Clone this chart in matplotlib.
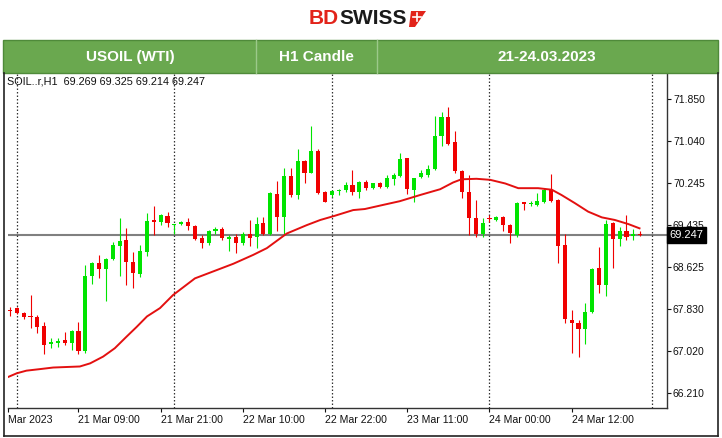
import matplotlib
matplotlib.use("Agg")
import matplotlib.pyplot as plt
import matplotlib.transforms as mtransforms
from matplotlib.patches import Rectangle, Polygon

plt.rcParams["font.family"] = ["Liberation Sans", "DejaVu Sans"]

# ── Data (H1 candles, USOIL 21-24.03.2023) ─────────────────────
opens = [67.80, 67.84, 67.74, 67.68, 67.67, 67.50, 67.16, 67.18, 67.22, 67.18,
         67.41, 67.02, 68.46, 68.70, 68.59, 68.78, 69.03, 69.14, 68.73, 68.49,
         68.92, 69.53, 69.50, 69.61, 69.44, 69.45, 69.50, 69.42, 69.19, 69.08,
         69.31, 69.36, 69.17, 69.21, 69.08, 69.26, 69.20, 69.47, 69.27, 70.03,
         69.59, 70.37, 70.01, 70.67, 70.44, 70.85, 70.07, 70.01, 70.08, 70.10,
         70.20, 70.07, 70.25, 70.14, 70.23, 70.17, 70.32, 70.38, 70.71, 70.11,
         70.35, 70.39, 70.51, 71.15, 71.51, 71.02, 70.47, 70.07, 69.56, 69.26,
         69.57, 69.53, 69.59, 69.43, 69.24, 69.87, 69.84, 69.82, 69.88, 70.11,
         69.91, 69.05, 67.62, 67.55, 67.43, 67.76, 68.60, 68.28, 69.47, 69.17,
         69.32, 69.22, 69.269]
highs = [67.87, 67.86, 67.77, 68.10, 67.71, 67.58, 67.27, 67.26, 67.39, 67.42,
         67.58, 68.67, 68.73, 68.85, 68.80, 69.11, 69.56, 69.37, 68.92, 69.05,
         69.67, 69.79, 69.65, 69.69, 69.46, 69.51, 69.56, 69.43, 69.24, 69.33,
         69.39, 69.39, 69.24, 69.26, 69.29, 69.53, 69.58, 69.59, 70.06, 70.28,
         70.52, 70.52, 70.89, 70.68, 71.33, 70.90, 70.09, 70.11, 70.12, 70.25,
         70.49, 70.28, 70.30, 70.24, 70.25, 70.39, 70.44, 70.82, 70.72, 70.34,
         70.49, 70.58, 71.53, 71.61, 71.69, 71.24, 70.49, 70.39, 69.91, 69.56,
         69.62, 69.60, 69.60, 69.46, 69.88, 69.88, 69.90, 70.04, 70.14, 70.42,
         69.93, 69.26, 67.80, 67.61, 67.93, 68.60, 69.02, 69.53, 69.50, 69.40,
         69.63, 69.35, 69.325]
lows = [67.69, 67.72, 67.64, 67.46, 67.36, 66.95, 67.07, 67.10, 67.13, 67.04,
        66.95, 66.97, 68.31, 68.41, 67.98, 68.76, 68.46, 68.28, 68.22, 68.44,
        68.83, 69.24, 69.43, 69.40, 69.26, 69.43, 69.34, 69.15, 68.99, 69.05,
        69.27, 69.15, 68.94, 68.90, 69.05, 69.03, 68.99, 69.25, 69.25, 69.32,
        69.27, 69.98, 69.93, 70.23, 70.43, 70.03, 69.87, 69.98, 70.01, 70.07,
        70.01, 69.95, 70.11, 70.12, 70.14, 70.15, 70.21, 70.36, 70.03, 69.88,
        70.33, 70.36, 70.49, 70.94, 70.97, 70.44, 69.95, 69.24, 69.21, 69.21,
        69.50, 69.51, 69.31, 69.09, 69.21, 69.72, 69.80, 69.80, 69.86, 69.88,
        68.70, 67.55, 66.97, 66.90, 67.16, 67.74, 68.12, 68.07, 68.60, 69.03,
        69.15, 69.15, 69.214]
closes = [67.78, 67.74, 67.66, 67.66, 67.48, 67.13, 67.19, 67.20, 67.17, 67.41,
          67.02, 68.46, 68.70, 68.59, 68.78, 69.05, 69.13, 68.73, 68.51, 68.94,
          69.51, 69.50, 69.63, 69.48, 69.45, 69.49, 69.41, 69.17, 69.09, 69.31,
          69.36, 69.18, 69.21, 69.09, 69.26, 69.19, 69.45, 69.27, 70.04, 69.59,
          70.37, 70.01, 70.66, 70.44, 70.85, 70.04, 69.88, 70.08, 70.09, 70.20,
          70.06, 70.25, 70.14, 70.23, 70.17, 70.33, 70.39, 70.69, 70.12, 70.33,
          70.43, 70.51, 71.15, 71.51, 70.99, 70.46, 70.06, 69.56, 69.26, 69.48,
          69.55, 69.58, 69.43, 69.28, 69.86, 69.84, 69.86, 69.89, 70.11, 69.90,
          69.03, 67.64, 67.55, 67.44, 67.77, 68.59, 68.28, 69.45, 69.17, 69.32,
          69.21, 69.27, 69.247]

# moving average (bar index, price)
ma_idx = [-0.25, 1.0, 2.4, 4.4, 6.3, 10.2, 11.7, 13.6, 15.3, 17.0, 18.5, 20.0,
          21.9, 23.8, 27.0, 30.2, 32.6, 35.5, 37.5, 40.4, 43.3, 45.3, 47.4,
          50.1, 51.8, 54.5, 56.9, 59.9, 62.8, 64.7, 65.9, 68.1, 70.1, 72.3,
          74.2, 77.1, 79.1, 80.5, 82.5, 84.4, 86.4, 88.3, 90.3, 91.9]
ma_val = [66.52, 66.59, 66.64, 66.67, 66.70, 66.72, 66.78, 66.91, 67.07, 67.29,
          67.48, 67.68, 67.84, 68.09, 68.41, 68.57, 68.69, 68.86, 68.99, 69.27,
          69.43, 69.53, 69.61, 69.72, 69.74, 69.82, 69.89, 70.01, 70.12, 70.25,
          70.31, 70.32, 70.30, 70.23, 70.14, 70.14, 70.11, 70.01, 69.85, 69.69,
          69.58, 69.53, 69.45, 69.37]

price_ticks = [66.210, 67.020, 67.830, 68.625, 69.435, 70.245, 71.040, 71.850]
time_tick_idx = [-0.25, 10, 22, 34, 46, 58, 70, 82]
time_tick_labels = ["Mar 2023", "21 Mar 09:00", "21 Mar 21:00", "22 Mar 10:00",
                    "22 Mar 22:00", "23 Mar 11:00", "24 Mar 00:00", "24 Mar 12:00"]
day_sep_idx = [1, 24, 47, 70, 93.7]

last_price = 69.247
info_line = "SOIL..r,H1  69.269 69.325 69.214 69.247"
header_cells = ["USOIL (WTI)", "H1 Candle", "21-24.03.2023"]

UP = "#00e400"
DOWN = "#f00000"
W, H = 722, 438

fig = plt.figure(figsize=(W / 100, H / 100), dpi=100)
fig.patch.set_facecolor("white")

# ── Chart axes ─────────────────────────────────────────────────
ax = fig.add_axes([8 / W, 1 - 408.3 / H, (666.7 - 8) / W, (408.3 - 73) / H])
ax.set_xlim(-0.29, 95.87)
ax.set_ylim(65.918, 72.349)
for side in ("left", "top"):
    ax.spines[side].set_visible(False)
for side in ("right", "bottom"):
    ax.spines[side].set_color("#333333")
    ax.spines[side].set_linewidth(1.0)

ax.axhline(last_price, color="#808080", lw=1.5, zorder=1)
for d in day_sep_idx:
    ax.axvline(d, color="#333333", lw=0.9, ls=(0, (1.2, 1.6)), zorder=1)

n = len(opens)
for i in range(n):
    o, h, l, c = opens[i], highs[i], lows[i], closes[i]
    col = UP if c >= o else DOWN
    ax.vlines(i, l, h, color=col, lw=0.8, zorder=2)
    lo, hi = min(o, c), max(o, c)
    ax.bar(i, max(hi - lo, 0.018), bottom=lo, width=0.6, color=col,
           linewidth=0, zorder=3)

ax.plot(ma_idx, ma_val, color="#e31010", lw=1.4, zorder=4)

ax.yaxis.tick_right()
ax.set_yticks(price_ticks)
ax.set_yticklabels([f"{p:.3f}" for p in price_ticks])
ax.tick_params(axis="y", direction="out", length=3, width=0.8, pad=1.5,
               labelsize=7.5, colors="#111111")
ax.set_xticks(time_tick_idx)
ax.set_xticklabels(time_tick_labels)
ax.tick_params(axis="x", direction="out", length=3, width=0.8, pad=1.5,
               labelsize=7.6, colors="#111111")
for lbl in ax.get_xticklabels():
    lbl.set_ha("left")

trans = mtransforms.blended_transform_factory(ax.transAxes, ax.transData)
ax.text(1.004, last_price, f"{last_price:.3f}", transform=trans, ha="left",
        va="center", fontsize=8, color="white", clip_on=False, zorder=6,
        bbox=dict(boxstyle="square,pad=0.25", fc="black", ec="black"))

# ── Header, logo and borders (pixel overlay) ───────────────────
ov = fig.add_axes([0, 0, 1, 1])
ov.set_xlim(0, W)
ov.set_ylim(H, 0)
ov.axis("off")

ov.text(339, 18, "BD", color="#e2231a", fontsize=15, fontweight="bold",
        ha="right", va="center")
ov.text(339, 18, "SWISS", color="#1a1a1a", fontsize=15, fontweight="bold",
        ha="left", va="center")
ov.add_patch(Polygon([[411, 11], [426, 11], [415, 27], [409, 27]],
                     closed=True, fc="#e2231a", ec="none"))
ov.plot([413, 421], [17, 17], color="white", lw=1.2)
ov.plot([417, 417], [13, 21], color="white", lw=1.2)

ov.add_patch(Rectangle((3, 40), 715, 33, fc="#6aa84f", ec="#4f8a3a", lw=1.0))
for xd in (256, 377):
    ov.plot([xd, xd], [40, 73], color="#9cc98a", lw=1.0)
for txt, xc in zip(header_cells, (130, 316, 547)):
    ov.text(xc, 57, txt, color="white", fontsize=11, fontweight="bold",
            ha="center", va="center")

ov.text(7, 81, info_line, fontsize=7.8, color="#111111", ha="left", va="center")

ov.plot([4, 4], [73, 436], color="#222222", lw=1.2)
ov.plot([718, 718], [73, 436], color="#222222", lw=1.2)
ov.plot([4, 718], [436, 436], color="#222222", lw=1.2)

fig.savefig("out.png", dpi=100, facecolor="white")
